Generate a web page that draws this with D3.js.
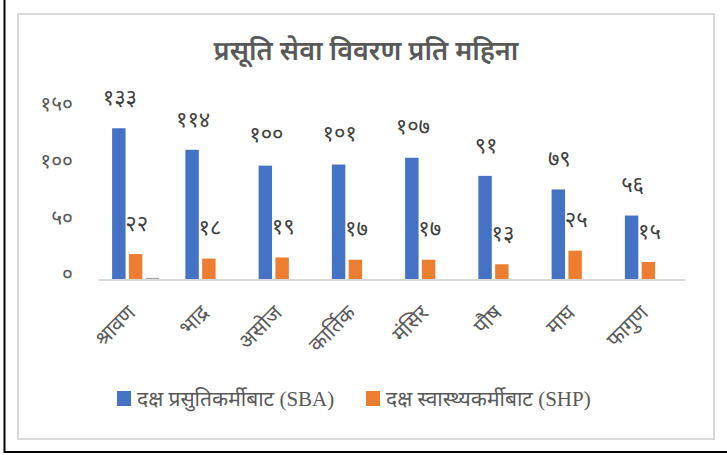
<!DOCTYPE html>
<html>
    <script src="https://d3js.org/d3.v7.min.js"></script>
    <head>
        <style>
            body { margin: 0; background: #fff; }
            text { font-family: "Noto Sans Devanagari", "Noto Sans", "DejaVu Sans", sans-serif; }
        </style>
    </head>
    <body>
        <svg id="chart"></svg>

        <script>
            const months = ["श्रावण", "भाद्र", "असोज", "कार्तिक", "मंसिर", "पौष", "माघ", "फागुण"];
            const sba = [133, 114, 100, 101, 107, 91, 79, 56];
            const shp = [22, 18, 19, 17, 17, 13, 25, 15];
            const other = [1, 0, 0, 0, 0, 0, 0, 0];
            const yTicks = [0, 50, 100, 150];
            const seriesNames = ["दक्ष प्रसुतिकर्मीबाट (SBA)", "दक्ष स्वास्थ्यकर्मीबाट (SHP)"];
            const colors = ["#4472C4", "#ED7D31", "#A5A5A5"];

            const width = 727;
            const height = 455;
            const margin = { top: 109, right: 42, bottom: 176, left: 99 };

            const devDigits = "०१२३४५६७८९";
            const toDev = (n) => String(n).replace(/\d/g, (c) => devDigits[+c]);

            const series = [sba, shp, other];
            const keys = ["sba", "shp", "other"];

            const svg = d3.select("#chart")
                .attr("width", width)
                .attr("height", height);

            // outer frame lines
            svg.append("line").attr("x1", 4.5).attr("x2", 4.5).attr("y1", 0).attr("y2", 453)
                .attr("stroke", "#000").attr("stroke-width", 2);
            svg.append("line").attr("x1", 4).attr("x2", 727).attr("y1", 452).attr("y2", 452)
                .attr("stroke", "#000").attr("stroke-width", 2);

            // chart box
            svg.append("rect")
                .attr("x", 18).attr("y", 14)
                .attr("width", 696).attr("height", 425)
                .attr("fill", "#fff")
                .attr("stroke", "#d9d9d9")
                .attr("stroke-width", 2);

            svg.append("text")
                .attr("x", 366).attr("y", 60)
                .attr("text-anchor", "middle")
                .attr("font-size", 27)
                .attr("font-weight", "600")
                .attr("fill", "#595959")
                .text("प्रसूति सेवा विवरण प्रति महिना");

            const x = d3.scaleBand().domain(months).range([margin.left, width - margin.right]);
            const xSub = d3.scaleBand().domain(keys).range([-23.5, 23.5]).paddingInner(0.2);
            const y = d3.scaleLinear().domain([0, 150]).range([height - margin.bottom, margin.top]);

            const rows = months.map((m, i) => ({ month: m, values: keys.map((k, j) => ({ key: k, s: j, v: series[j][i] })) }));

            const groups = svg.selectAll("g.grp")
                .data(rows)
                .join("g")
                .attr("class", "grp")
                .attr("transform", (d) => `translate(${x(d.month) + x.bandwidth() / 2},0)`);

            groups.selectAll("rect")
                .data((d) => d.values.filter((v) => v.v > 0))
                .join("rect")
                .attr("x", (d) => xSub(d.key))
                .attr("y", (d) => y(d.v))
                .attr("width", xSub.bandwidth())
                .attr("height", (d) => y(0) - y(d.v))
                .attr("fill", (d) => colors[d.s]);

            groups.selectAll("text.lbl")
                .data((d) => d.values.filter((v) => v.s < 2))
                .join("text")
                .attr("class", "lbl")
                .attr("x", (d) => xSub(d.key) + xSub.bandwidth() / 2 + 1)
                .attr("y", (d) => y(d.v) - 31)
                .attr("dy", "0.35em")
                .attr("text-anchor", "middle")
                .attr("font-size", 22)
                .attr("fill", "#404040")
                .text((d) => toDev(d.v));

            // baseline
            svg.append("line")
                .attr("x1", margin.left).attr("x2", width - margin.right)
                .attr("y1", y(0) + 1).attr("y2", y(0) + 1)
                .attr("stroke", "#d9d9d9").attr("stroke-width", 2);

            // y axis labels
            const yAxis = d3.axisLeft(y).tickValues(yTicks).tickFormat(toDev).tickSize(0).tickPadding(0);
            const yg = svg.append("g")
                .attr("transform", `translate(73,-5)`)
                .call(yAxis);
            yg.select(".domain").remove();
            yg.selectAll("text")
                .attr("font-size", 21)
                .attr("fill", "#595959")
                .style("font-family", null);

            // x axis labels
            const xAxis = d3.axisBottom(x).tickSize(0).tickPadding(0);
            const xg = svg.append("g")
                .attr("transform", `translate(0,${y(0)})`)
                .call(xAxis);
            xg.select(".domain").remove();
            xg.selectAll("text")
                .attr("font-size", 21)
                .attr("fill", "#595959")
                .attr("text-anchor", "end")
                .attr("transform", "translate(-4,30) rotate(-45)")
                .attr("x", 0).attr("y", 0).attr("dy", "0.35em")
                .style("font-family", null);

            // legend
            const legendX = [117, 366];
            const legend = svg.selectAll("g.leg")
                .data(seriesNames)
                .join("g")
                .attr("class", "leg")
                .attr("transform", (d, i) => `translate(${legendX[i]},391)`);
            legend.append("rect")
                .attr("width", 14).attr("height", 15)
                .attr("fill", (d, i) => colors[i]);
            legend.append("text")
                .attr("x", 20).attr("y", 8)
                .attr("dy", "0.35em")
                .attr("font-size", 21)
                .attr("fill", "#595959")
                .style("font-family", "'Liberation Serif', 'Noto Sans Devanagari', serif")
                .text((d) => d);
        </script>
    </body>
</html>
